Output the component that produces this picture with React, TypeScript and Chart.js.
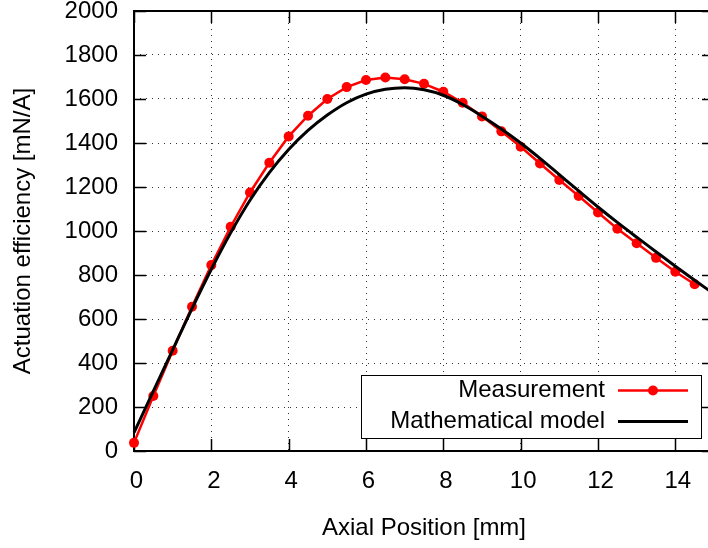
import React, { useEffect, useRef } from "react";
import { Chart, registerables } from "chart.js";

Chart.register(...registerables);

// ---- data ----
const measurementPositions = [
  0, 0.5, 1, 1.5, 2, 2.5, 3, 3.5, 4, 4.5, 5, 5.5, 6, 6.5, 7, 7.5, 8, 8.5, 9, 9.5,
  10, 10.5, 11, 11.5, 12, 12.5, 13, 13.5, 14, 14.5,
];
const measurementValues = [
  37, 250, 456, 656, 845, 1019, 1175, 1310, 1430, 1524, 1600, 1654, 1686, 1698,
  1690, 1669, 1633, 1583, 1521, 1453, 1383, 1307, 1232, 1159, 1084, 1010, 944,
  878, 815, 758,
];
const modelPositions = [
  0, 0.5, 1, 1.5, 2, 2.5, 3, 3.5, 4, 4.5, 5, 5.5, 6, 6.5, 7, 7.5, 8, 8.5, 9, 9.5,
  10, 10.5, 11, 11.5, 12, 12.5, 13, 13.5, 14, 14.5, 15,
];
const modelValues = [
  83, 272, 460, 647, 826, 992, 1140, 1265, 1370, 1457, 1527, 1583, 1622, 1644,
  1651, 1642, 1617, 1575, 1522, 1464, 1400, 1330, 1256, 1182, 1109, 1039, 972,
  906, 840, 776, 714,
];
const xTickValues = [0, 2, 4, 6, 8, 10, 12, 14];
const yTickValues = [0, 200, 400, 600, 800, 1000, 1200, 1400, 1600, 1800, 2000];
const seriesLabels = ["Measurement", "Mathematical model"];
const xTitle = "Axial Position [mm]";
const yTitle = "Actuation efficiency [mN/A]";

const FONT = "'Liberation Sans', Arial, Helvetica, sans-serif";
const TICK = 12;

const framePlugin = {
  id: "frame",
  beforeDatasetsDraw(chart: any) {
    const { ctx, chartArea, scales } = chart;
    const { left, right, top, bottom } = chartArea;
    const x = scales.x;
    const y = scales.y;
    ctx.save();
    ctx.strokeStyle = "#000";
    ctx.lineWidth = 1.5;
    ctx.beginPath();
    for (const v of xTickValues) {
      const px = Math.round(x.getPixelForValue(v)) + 0.5;
      ctx.moveTo(px, bottom);
      ctx.lineTo(px, bottom - TICK);
      ctx.moveTo(px, top);
      ctx.lineTo(px, top + TICK);
    }
    for (const v of yTickValues) {
      const py = Math.round(y.getPixelForValue(v)) + 0.5;
      ctx.moveTo(left, py);
      ctx.lineTo(left + TICK, py);
      ctx.moveTo(right, py);
      ctx.lineTo(right - TICK, py);
    }
    ctx.stroke();
    ctx.lineWidth = 2;
    ctx.strokeRect(left, top, right - left, bottom - top);
    ctx.restore();
  },
};

const legendPlugin = {
  id: "customLegend",
  afterDatasetsDraw(chart: any) {
    const { ctx, chartArea } = chart;
    const boxRight = chartArea.right - 13;
    const boxBottom = chartArea.bottom - 13;
    const boxW = 340;
    const boxH = 63;
    const boxLeft = boxRight - boxW;
    const boxTop = boxBottom - boxH;
    ctx.save();
    ctx.fillStyle = "#fff";
    ctx.fillRect(boxLeft, boxTop, boxW, boxH);
    ctx.strokeStyle = "#000";
    ctx.lineWidth = 1;
    ctx.strokeRect(Math.round(boxLeft) + 0.5, Math.round(boxTop) + 0.5, boxW, boxH);

    const rows = [boxTop + 15.5, boxTop + 46.5];
    ctx.font = `24px ${FONT}`;
    ctx.textAlign = "right";
    ctx.textBaseline = "middle";
    const textRight = boxRight - 96;
    const sx1 = boxRight - 83;
    const sx2 = boxRight - 13;
    chart.data.datasets.forEach((ds: any) => {
      const ry = rows[ds.legendRow];
      ctx.fillStyle = "#000";
      ctx.fillText(ds.label, textRight, ry);
      ctx.strokeStyle = ds.borderColor;
      ctx.lineWidth = ds.borderWidth;
      ctx.beginPath();
      ctx.moveTo(sx1, ry);
      ctx.lineTo(sx2, ry);
      ctx.stroke();
      if (ds.pointRadius > 0) {
        ctx.fillStyle = ds.pointBackgroundColor;
        ctx.beginPath();
        ctx.arc((sx1 + sx2) / 2, ry, ds.pointRadius, 0, Math.PI * 2);
        ctx.fill();
      }
    });
    ctx.restore();
  },
};

export default function App() {
  const canvasRef = useRef<HTMLCanvasElement | null>(null);

  useEffect(() => {
    const canvas = canvasRef.current;
    if (!canvas) return;
    const chart = new Chart(canvas, {
      type: "line",
      data: {
        datasets: [
          {
            label: seriesLabels[1],
            legendRow: 1,
            data: modelPositions.map((p, i) => ({ x: p, y: modelValues[i] })),
            borderColor: "#000000",
            backgroundColor: "#000000",
            borderWidth: 3,
            pointRadius: 0,
            pointBackgroundColor: "#000000",
            cubicInterpolationMode: "monotone",
            clip: false,
            order: 0,
          } as any,
          {
            label: seriesLabels[0],
            legendRow: 0,
            data: measurementPositions.map((p, i) => ({ x: p, y: measurementValues[i] })),
            borderColor: "#ff0000",
            backgroundColor: "#ff0000",
            borderWidth: 2.5,
            pointRadius: 5,
            pointBorderWidth: 0,
            pointBackgroundColor: "#ff0000",
            tension: 0,
            clip: false,
            order: 1,
          } as any,
        ],
      },
      options: {
        animation: false,
        responsive: false,
        devicePixelRatio: 1,
        layout: { padding: { left: 0, top: 11, right: 16, bottom: 0 } },
        plugins: {
          legend: { display: false },
          tooltip: { enabled: false },
        },
        scales: {
          x: {
            type: "linear",
            min: 0,
            max: 15,
            afterBuildTicks: (scale: any) => {
              scale.ticks = xTickValues.map((v) => ({ value: v }));
            },
            afterFit: (scale: any) => {
              scale.height = 97;
            },
            grid: {
              color: "rgba(0,0,0,0.8)",
              lineWidth: 1,
              drawTicks: false,
            },
            border: { display: false, dash: [1, 5] },
            ticks: {
              color: "#000",
              font: { family: FONT, size: 24, lineHeight: 0.9 },
              padding: 20,
              labelOffset: 2.5,
              maxRotation: 0,
              autoSkip: false,
              callback: (v: any) => String(v),
            },
            title: {
              display: true,
              text: xTitle,
              color: "#000",
              font: { family: FONT, size: 24 },
              padding: { top: 0, bottom: 5.6 },
            },
          },
          y: {
            type: "linear",
            min: 0,
            max: 2000,
            afterBuildTicks: (scale: any) => {
              scale.ticks = yTickValues.map((v) => ({ value: v }));
            },
            afterFit: (scale: any) => {
              scale.width = 134;
            },
            grid: {
              color: "rgba(0,0,0,0.8)",
              lineWidth: 1,
              drawTicks: true,
              tickLength: 16,
              tickWidth: 0,
              tickColor: "rgba(0,0,0,0)",
            },
            border: { display: false, dash: [1, 5] },
            ticks: {
              color: "#000",
              font: { family: FONT, size: 24, lineHeight: 0.9 },
              padding: 0,
              autoSkip: false,
              callback: (v: any) => String(v),
            },
            title: {
              display: true,
              text: yTitle,
              color: "#000",
              font: { family: FONT, size: 24 },
              padding: { top: 9, bottom: 0 },
            },
          },
        },
      } as any,
      plugins: [framePlugin, legendPlugin],
    });
    return () => chart.destroy();
  }, []);

  return (
    <div
      style={{
        position: "fixed",
        left: 0,
        top: 0,
        width: 708,
        height: 548,
        overflow: "hidden",
        background: "#fff",
      }}
    >
      <canvas ref={canvasRef} width={730} height={548} style={{ display: "block" }} />
    </div>
  );
}
